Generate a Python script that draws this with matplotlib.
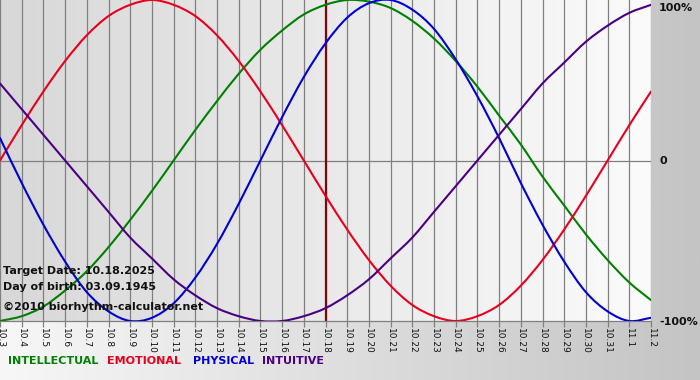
import numpy as np
import matplotlib
matplotlib.use("Agg")
import matplotlib.pyplot as plt
from matplotlib.path import Path
from matplotlib.patches import PathPatch

dates = ["10.3", "10.4", "10.5", "10.6", "10.7", "10.8", "10.9", "10.10", "10.11",
         "10.12", "10.13", "10.14", "10.15", "10.16", "10.17", "10.18", "10.19",
         "10.20", "10.21", "10.22", "10.23", "10.24", "10.25", "10.26", "10.27",
         "10.28", "10.29", "10.30", "10.31", "11.1", "11.2"]

physical = [0.14, -0.14, -0.40, -0.63, -0.82, -0.94, -1.00, -0.98, -0.89, -0.73,
            -0.52, -0.27, 0.00, 0.27, 0.52, 0.73, 0.89, 0.98, 1.00, 0.94, 0.82,
            0.63, 0.40, 0.14, -0.14, -0.40, -0.63, -0.82, -0.94, -1.00, -0.98]
emotional = [0.00, 0.22, 0.43, 0.62, 0.78, 0.90, 0.97, 1.00, 0.97, 0.90, 0.78,
             0.62, 0.43, 0.22, 0.00, -0.22, -0.43, -0.62, -0.78, -0.90, -0.97,
             -1.00, -0.97, -0.90, -0.78, -0.62, -0.43, -0.22, 0.00, 0.22, 0.43]
intellectual = [-1.00, -0.97, -0.91, -0.81, -0.69, -0.54, -0.37, -0.19, 0.00, 0.19,
                0.37, 0.54, 0.69, 0.81, 0.91, 0.97, 1.00, 0.99, 0.95, 0.87, 0.76,
                0.62, 0.46, 0.28, 0.10, -0.10, -0.28, -0.46, -0.62, -0.76, -0.87]
intuitive = [0.48, 0.32, 0.16, 0.00, -0.16, -0.32, -0.48, -0.61, -0.74, -0.84,
             -0.92, -0.97, -1.00, -1.00, -0.97, -0.92, -0.84, -0.74, -0.61, -0.48,
             -0.32, -0.16, 0.00, 0.16, 0.32, 0.48, 0.61, 0.74, 0.84, 0.92, 0.97]

target_label = "10.18"
y_labels = ["100%", "0", "-100%"]
info_lines = ["Target Date: 10.18.2025", "Day of birth: 03.09.1945",
              "\u00a92010 biorhythm-calculator.net"]
legend_names = ["INTELLECTUAL", "EMOTIONAL", "PHYSICAL", "INTUITIVE"]

C_INT = "#008000"
C_EMO = "#e6001e"
C_PHY = "#0000d2"
C_ITU = "#4b0082"
legend_colors = [C_INT, C_EMO, C_PHY, C_ITU]

W, H = 700, 380
fig = plt.figure(figsize=(W / 100, H / 100), dpi=100)

# figure background gradient
bg = fig.add_axes([0, 0, 1, 1], zorder=-10)
grad = np.linspace(247, 196, 256)[None, :] / 255.0
bg.imshow(np.dstack([grad, grad, grad]), aspect="auto", extent=[0, 1, 0, 1])
bg.set_axis_off()

ax_l, ax_w = 0.0, 651 / W
ax_b, ax_h = 59 / H, 321 / H
ax = fig.add_axes([ax_l, ax_b, ax_w, ax_h])
ax.patch.set_alpha(0)
x = np.arange(len(dates))
ax.set_xlim(0, len(dates) - 1)
ax.set_ylim(-1, 1)

# plot area gradient
pg = np.linspace(216, 251, 256)[None, :] / 255.0
ax.imshow(np.dstack([pg, pg, pg]), aspect="auto",
          extent=[0, len(dates) - 1, -1, 1], zorder=0)

for xi in x:
    ax.axvline(xi, color="#808080", lw=0.9, zorder=1)
ax.axhline(0, color="#808080", lw=0.9, zorder=1)

ti = dates.index(target_label)
ax.axvline(ti, color="#7a0a0a", lw=1.6, zorder=2)


def smooth_curve(xs, ys, color):
    """Draw a smooth curve through the data points (Catmull-Rom as Bezier)."""
    xs = np.asarray(xs, float)
    ys = np.asarray(ys, float)
    n = len(xs)
    verts = [(xs[0], ys[0])]
    codes = [Path.MOVETO]
    for i in range(n - 1):
        x0, y0 = (xs[i - 1], ys[i - 1]) if i > 0 else (2 * xs[0] - xs[1], 2 * ys[0] - ys[1])
        x1, y1 = xs[i], ys[i]
        x2, y2 = xs[i + 1], ys[i + 1]
        x3, y3 = (xs[i + 2], ys[i + 2]) if i + 2 < n else (2 * xs[-1] - xs[-2], 2 * ys[-1] - ys[-2])
        c1 = (x1 + (x2 - x0) / 6, y1 + (y2 - y0) / 6)
        c2 = (x2 - (x3 - x1) / 6, y2 - (y3 - y1) / 6)
        verts += [c1, c2, (x2, y2)]
        codes += [Path.CURVE4] * 3
    patch = PathPatch(Path(verts, codes), facecolor="none", edgecolor=color,
                      lw=1.5, zorder=3, capstyle="round", joinstyle="round")
    ax.add_patch(patch)


smooth_curve(x, intellectual, C_INT)
smooth_curve(x, emotional, C_EMO)
smooth_curve(x, physical, C_PHY)
smooth_curve(x, intuitive, C_ITU)

for s in ["top", "right", "left"]:
    ax.spines[s].set_visible(False)
ax.spines["bottom"].set_color("#808080")
ax.spines["bottom"].set_linewidth(0.9)

ax.set_xticks(x)
ax.set_xticklabels(dates, rotation=270, fontsize=6.5, color="#111111")
ax.tick_params(axis="x", length=4, width=0.9, color="#808080", pad=1)
ax.set_yticks([])

for lab, ypix in zip(y_labels, [8, 161, 322]):
    fig.text(659 / W, 1 - ypix / H, lab, ha="left", va="center",
             fontsize=8, fontweight="bold", color="#111111")

for line, ypix in zip(info_lines, [271, 287, 307]):
    fig.text(3 / W, 1 - ypix / H, line, fontsize=8, fontweight="bold",
             color="#111111", ha="left", va="center")

xs_leg = [8, 107, 193, 262]
for name, col, xp in zip(legend_names, legend_colors, xs_leg):
    fig.text(xp / W, 1 - 361 / H, name, fontsize=8, fontweight="bold",
             color=col, ha="left", va="center")

fig.savefig("out.png", dpi=100)
